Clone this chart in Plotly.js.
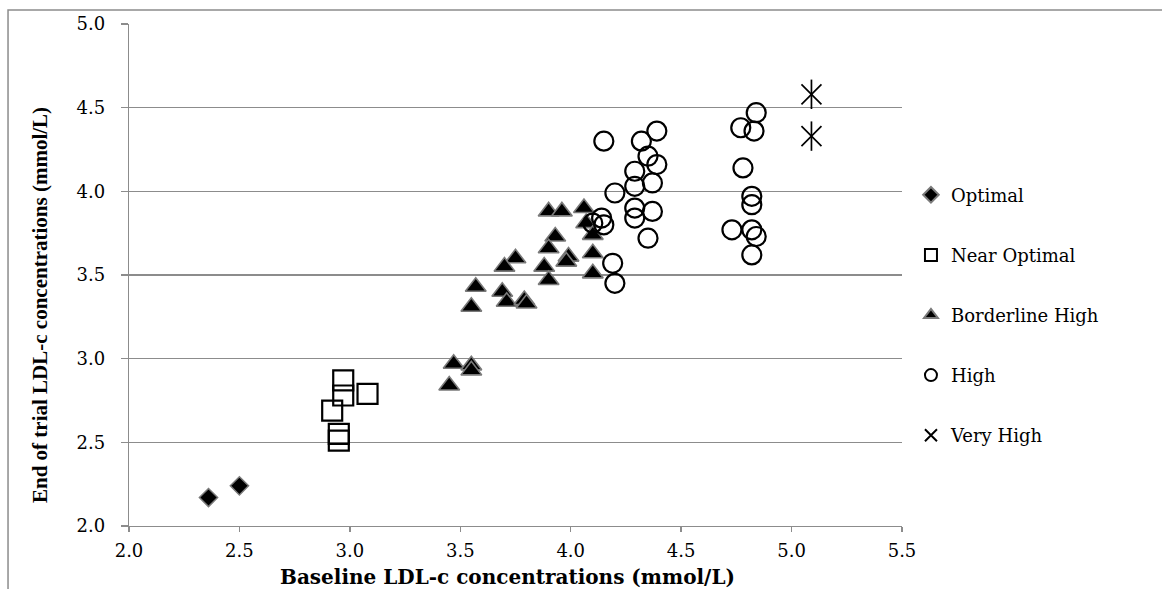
<!DOCTYPE html>
<html>
<head>
<meta charset="utf-8">
<script src="https://cdn.plot.ly/plotly-3.0.1.min.js"></script>
<style>
  html, body { margin: 0; padding: 0; background: #ffffff; }
  #chart { width: 1162px; height: 589px; }
</style>
</head>
<body>
<div id="chart"></div>
<script>
// Baseline (x) and end-of-trial (y) LDL-c concentrations, mmol/L
const optimalX = [2.36, 2.50];
const optimalY = [2.17, 2.24];

const nearOptimalX = [2.97, 2.97, 3.08, 2.92, 2.95, 2.95];
const nearOptimalY = [2.87, 2.78, 2.79, 2.69, 2.55, 2.51];

const borderlineX = [3.90, 3.96, 4.06, 4.07, 4.10, 3.93, 3.90, 3.99, 3.98, 4.10, 3.88, 4.10, 3.90,
                     3.75, 3.70, 3.57, 3.55, 3.69, 3.71, 3.79, 3.80, 3.47, 3.55, 3.55, 3.45];
const borderlineY = [3.88, 3.88, 3.90, 3.81, 3.74, 3.73, 3.66, 3.61, 3.58, 3.63, 3.55, 3.51, 3.47,
                     3.60, 3.55, 3.43, 3.31, 3.40, 3.34, 3.35, 3.33, 2.97, 2.96, 2.93, 2.84];

const highX = [4.15, 4.32, 4.39, 4.35, 4.39, 4.29, 4.29, 4.37, 4.20, 4.29, 4.37, 4.29, 4.14, 4.15, 4.10,
               4.35, 4.19, 4.20, 4.84, 4.77, 4.83, 4.78, 4.82, 4.82, 4.73, 4.82, 4.84, 4.82];
const highY = [4.30, 4.30, 4.36, 4.21, 4.16, 4.12, 4.03, 4.05, 3.99, 3.90, 3.88, 3.84, 3.84, 3.80, 3.81,
               3.72, 3.57, 3.45, 4.47, 4.38, 4.36, 4.14, 3.97, 3.92, 3.77, 3.77, 3.73, 3.62];

const veryHighX = [5.09, 5.09];
const veryHighY = [4.58, 4.33];

const seriesNames = ["Optimal", "Near Optimal", "Borderline High", "High", "Very High"];
const xTickVals = [2.0, 2.5, 3.0, 3.5, 4.0, 4.5, 5.0, 5.5];
const yTickVals = [2.0, 2.5, 3.0, 3.5, 4.0, 4.5, 5.0];
const xTitle = "Baseline LDL-c concentrations (mmol/L)";
const yTitle = "End of trial LDL-c concentrations (mmol/L)";

const traces = [
  {
    x: optimalX, y: optimalY, name: seriesNames[0], legendgroup: "g1",
    type: "scatter", mode: "markers",
    marker: { symbol: "diamond", size: 14, color: "#000000", line: { color: "#7a7a7a", width: 1.5 } }
  },
  {
    x: nearOptimalX, y: nearOptimalY, name: seriesNames[1], legendgroup: "g2",
    type: "scatter", mode: "markers",
    marker: { symbol: "square-open", size: 20, color: "#000000", line: { color: "#000000", width: 2.2 } }
  },
  {
    x: borderlineX, y: borderlineY, name: seriesNames[2], legendgroup: "g3",
    type: "scatter", mode: "markers",
    marker: { symbol: "triangle-up", size: 18, color: "#000000", line: { color: "#7a7a7a", width: 1.6 } }
  },
  {
    x: highX, y: highY, name: seriesNames[3], legendgroup: "g4",
    type: "scatter", mode: "markers",
    marker: { symbol: "circle-open", size: 19, color: "#000000", line: { color: "#000000", width: 2.2 } }
  },
  {
    x: veryHighX, y: veryHighY, name: seriesNames[4], legendgroup: "g5",
    type: "scatter", mode: "markers",
    marker: { symbol: "x-thin-open", size: 20, color: "#000000", line: { color: "#000000", width: 1.7 } }
  },
  {
    x: veryHighX, y: veryHighY, name: seriesNames[4], legendgroup: "g5", showlegend: false,
    type: "scatter", mode: "markers", hoverinfo: "skip",
    marker: { symbol: "line-ns-open", size: 21, color: "#000000", line: { color: "#000000", width: 1.7 } }
  }
];

const gridGray = "#8c8c8c";

const layout = {
  width: 1162,
  height: 589,
  margin: { l: 129, r: 260, t: 24, b: 63, pad: 0 },
  paper_bgcolor: "#ffffff",
  plot_bgcolor: "#ffffff",
  showlegend: true,
  font: { family: "DejaVu Serif", color: "#000000" },
  xaxis: {
    range: [2.0, 5.5],
    tickvals: xTickVals,
    ticktext: xTickVals.map(v => v.toFixed(1)),
    showgrid: false,
    zeroline: false,
    showline: true,
    linecolor: gridGray,
    linewidth: 1.3,
    ticks: "outside",
    ticklen: 5,
    tickwidth: 1.3,
    tickcolor: gridGray,
    ticklabelstandoff: 3,
    tickfont: { family: "DejaVu Serif", size: 18, color: "#000000" }
  },
  yaxis: {
    range: [2.0, 5.0],
    tickvals: yTickVals,
    ticktext: yTickVals.map(v => v.toFixed(1)),
    showgrid: true,
    gridcolor: gridGray,
    gridwidth: 1.3,
    zeroline: false,
    showline: true,
    linecolor: gridGray,
    linewidth: 1.3,
    ticks: "outside",
    ticklen: 7,
    tickwidth: 1.3,
    tickcolor: gridGray,
    ticklabelstandoff: 12,
    tickfont: { family: "DejaVu Serif", size: 18, color: "#000000" }
  },
  annotations: [
    {
      text: "<b>" + xTitle + "</b>", xref: "paper", yref: "paper",
      x: (507 - 129) / 773, y: -(577 - 526) / 502, xanchor: "center", yanchor: "middle",
      showarrow: false,
      font: { family: "DejaVu Serif", size: 20, color: "#000000" }
    },
    {
      text: "<b>" + yTitle + "</b>", xref: "paper", yref: "paper",
      x: -(129 - 40) / 773, y: (526 - 305) / 502, xanchor: "center", yanchor: "middle",
      textangle: -90, showarrow: false,
      font: { family: "Liberation Serif", size: 21, color: "#000000" }
    }
  ],
  legend: {
    x: 1.0116, xanchor: "left",
    y: 0.696, yanchor: "top",
    font: { family: "DejaVu Serif", size: 18, color: "#000000" },
    itemsizing: "constant",
    itemwidth: 30,
    tracegroupgap: 33.7,
    traceorder: "grouped",
    bgcolor: "rgba(0,0,0,0)",
    borderwidth: 0
  },
  shapes: [
    {
      type: "rect", xref: "paper", yref: "paper", layer: "below",
      x0: -0.1565, x1: 1.6, y0: -0.3, y1: 1.0279,
      line: { color: gridGray, width: 1.5 }, fillcolor: "rgba(0,0,0,0)"
    }
  ]
};

Plotly.newPlot("chart", traces, layout, { staticPlot: true, displayModeBar: false });
</script>
</body>
</html>
